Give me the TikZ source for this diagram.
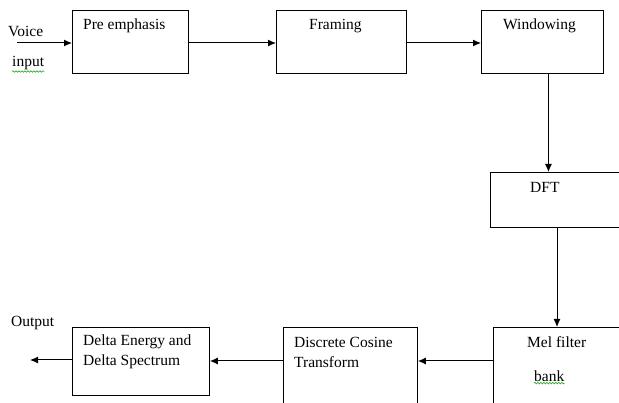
\documentclass[tikz,border=0pt]{standalone}
\usepackage{fontspec}
\setmainfont{Liberation Serif}
\usetikzlibrary{arrows.meta,decorations.pathmorphing}
\tikzset{
  blk/.style={draw, line width=0.9pt, anchor=north west, inner sep=0pt},
  lbl/.style={anchor=west, inner sep=0pt, font=\fontsize{15.5}{18}\selectfont},
  arr/.style={-{Latex[length=8pt,width=7pt]}, line width=1pt},
  squig/.style={draw=green!60!black, line width=0.5pt, decorate, decoration={snake, amplitude=0.8pt, segment length=3pt}}
}
\begin{document}
\begin{tikzpicture}[x=1pt,y=-1pt]
	\useasboundingbox (0,0) rectangle (619,403);
	% boxes
	\node[blk, minimum width=116, minimum height=63] (pre) at (72,10) {};
	\node[blk, minimum width=130, minimum height=63] (frm) at (276,10) {};
	\node[blk, minimum width=122, minimum height=63] (win) at (481,10) {};
	\node[blk, minimum width=132, minimum height=55] (dft) at (490,172) {};
	\node[blk, minimum width=130, minimum height=85] (mel) at (493,327) {};
	\node[blk, minimum width=134, minimum height=85] (dct) at (283,327) {};
	\node[blk, minimum width=137, minimum height=68] (dlt) at (72,327) {};
	% texts
	\node[lbl] (voice) at (8,31) {Voice};
	\node[lbl] (input) at (12,63) {input};
	\node[lbl] (tpre) at (83,26) {Pre emphasis};
	\node[lbl] (tfrm) at (309,26) {Framing};
	\node[lbl] (twin) at (503,26) {Windowing};
	\node[lbl] (tdft) at (530,187) {DFT};
	\node[lbl] (tmel) at (527,342) {Mel filter};
	\node[lbl] (tbank) at (534,376) {bank};
	\node[lbl] (tdct) at (294,342) {Discrete Cosine};
	\node[lbl] (tdct2) at (294,362) {Transform};
	\node[lbl] (tdlt) at (83,342) {Delta Energy and};
	\node[lbl] (tdlt2) at (83,362) {Delta Spectrum};
	\node[lbl] (out) at (11,323) {Output};
	\coordinate (vin) at (17,43);
	\coordinate (vout) at (30,360);
	% squiggles
	\draw[squig] ([yshift=-1.5pt]input.south west) -- ([yshift=-1.5pt]input.south east);
	\draw[squig] ([yshift=-1.5pt]tbank.south west) -- ([yshift=-1.5pt]tbank.south east);
	% arrows
	\draw[arr] (vin) -- (vin -| pre.west);
	\draw[arr] (pre.east |- vin) -- (frm.west |- vin);
	\draw[arr] (frm.east |- vin) -- (win.west |- vin);
	\draw[arr] ([xshift=6pt]win.south) -- ([xshift=6pt]win.south |- dft.north);
	\draw[arr] (dft.south -| 557,0) -- (mel.north -| 557,0);
	\draw[arr] (mel.west |- 0,361) -- (dct.east |- 0,361);
	\draw[arr] (dct.west |- 0,361) -- (dlt.east |- 0,361);
	\draw[arr] (dlt.west |- vout) -- (vout);
\end{tikzpicture}
\end{document}
